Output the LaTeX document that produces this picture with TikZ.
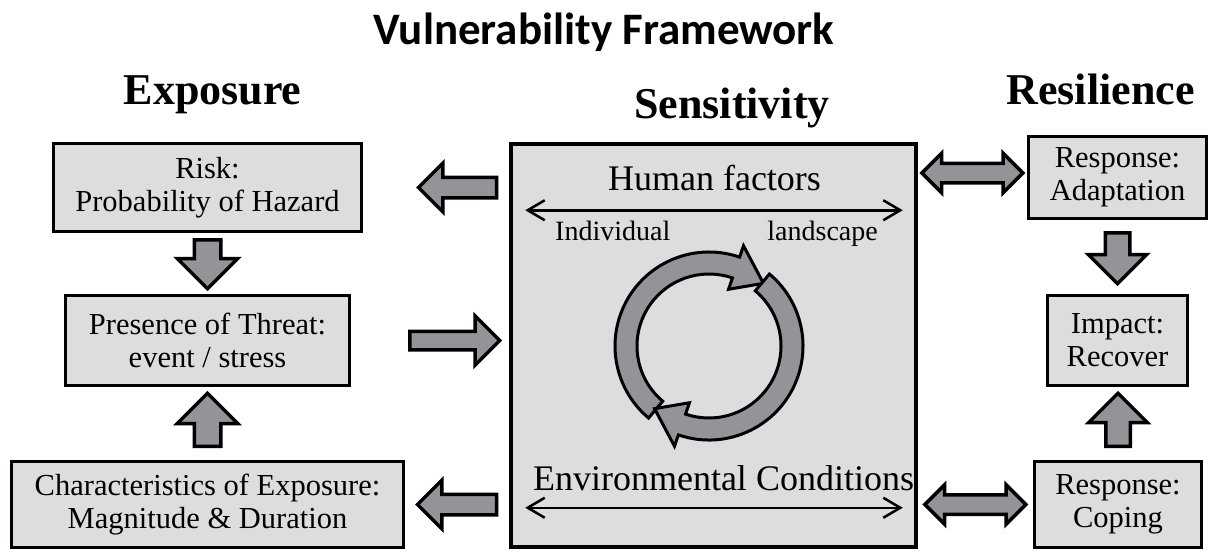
\documentclass[tikz,border=0pt]{standalone}
\usepackage{fontspec}
\setmainfont{Liberation Serif}
\newfontfamily\titlefont{Carlito}
\usetikzlibrary{shapes.arrows,arrows.meta,calc}
\definecolor{boxgray}{RGB}{220,221,222}
\definecolor{arrowgray}{RGB}{146,148,151}

\begin{document}
\begin{tikzpicture}[x=1pt,y=-1pt,
	box/.style={draw=black, line width=3pt, fill=boxgray, align=center, inner sep=0pt, font=\fontsize{30.5}{33}\selectfont},
	blockarrow/.style={single arrow, draw=black, line width=3.5pt, fill=arrowgray, single arrow tip angle=90},
	harrow/.style={blockarrow, inner sep=8.5pt, single arrow head extend=14pt},
	varrow/.style={blockarrow, inner sep=11.5pt, single arrow head extend=17pt, minimum height=49pt},
	twoway/.style={double arrow, draw=black, line width=3.5pt, fill=arrowgray, inner sep=8pt, double arrow tip angle=90, double arrow head extend=10pt, minimum height=101pt},
	thinarrow/.style={line width=2.5pt, {Straight Barb[length=17pt,width=20pt]}-{Straight Barb[length=17pt,width=20pt]}},
	heading/.style={font=\fontsize{44}{48}\selectfont\bfseries, anchor=base, inner sep=0pt},
	label/.style={anchor=base, inner sep=0pt}]
	\useasboundingbox (0,0) rectangle (1215,552);
	% Titles:
	\node[anchor=base, inner sep=0pt, font={\titlefont\bfseries\fontsize{45}{48}\selectfont}] (title) at (604,44) {Vulnerability Framework};
	\node[heading] (exposure) at (212.5,104) {Exposure};
	\node[heading] (sensitivity) at (732,118) {Sensitivity};
	\node[heading] (resilience) at (1100.5,104) {Resilience};
	% Boxes:
	\node[box, minimum width=308pt, minimum height=88pt] (risk) at (207.5,187.5) {Risk:\\Probability of Hazard};
	\node[box, minimum width=284pt, minimum height=90pt] (threat) at (207.5,340.5) {Presence of Threat:\\event / stress};
	\node[box, minimum width=392pt, minimum height=86pt] (charact) at (207.5,504.5) {Characteristics of Exposure:\\Magnitude \& Duration};
	\node[box, line width=3.5pt, minimum width=405pt, minimum height=403pt] (central) at (713.5,345.5) {};
	\node[box, minimum width=178pt, minimum height=82pt] (adapt) at (1117.5,177.5) {Response:\\Adaptation};
	\node[box, minimum width=140pt, minimum height=90pt] (impact) at (1117.5,340.5) {Impact:\\Recover};
	\node[box, minimum width=167pt, minimum height=86pt] (coping) at (1118,504.5) {Response:\\Coping};
	% Block arrows:
	\node[varrow, shape border rotate=270, anchor=tail] (riskarrow) at ($(risk.south)+(0,5)$) {};
	\node[varrow, shape border rotate=90, anchor=tail, minimum height=53pt] (charactarrow) at ($(charact.north)+(0,-12)$) {};
	\node[harrow, shape border rotate=180, anchor=tail, minimum height=78pt] (toprisk) at ($(central.west |- risk.east)+(-11,0)$) {};
	\node[harrow, anchor=tail, inner sep=7.5pt, single arrow head extend=15.5pt, minimum height=90pt] (tocentral) at ($(threat.east)+(57,0)$) {};
	\node[harrow, shape border rotate=180, anchor=tail, minimum height=79pt] (tocharact) at ($(central.west |- charact.east)+(-11,0)$) {};
	\node[varrow, shape border rotate=270, anchor=tail, minimum height=51pt, inner sep=10.5pt] (adaptarrow) at ($(adapt.south)+(0,11)$) {};
	\node[varrow, shape border rotate=90, anchor=tail, minimum height=53pt, inner sep=10.5pt] (copingarrow) at ($(coping.north)+(0,-12)$) {};
	\node[twoway] (adaptlink) at ($(central.east |- adapt.west)!0.5!(adapt.west)+(0,-4.5)$) {};
	\node[twoway] (copinglink) at ($(central.east |- coping.west)!0.5!(coping.west)$) {};
	% Inside the sensitivity box:
	\node[label, font=\fontsize{36}{40}\selectfont] (human) at (714.5,190) {Human factors};
	\coordinate (humanleft) at ($(central.north west)+(16,68)$);
	\coordinate (humanright) at ($(central.north east)+(-15,68)$);
	\draw[thinarrow] (humanleft) -- (humanright);
	\node[label, anchor=base west, font=\fontsize{28}{32}\selectfont] (individual) at (555,240) {Individual};
	\node[label, anchor=base east, font=\fontsize{28}{32}\selectfont] (landscape) at (878,240) {landscape};
	\node[label, font=\fontsize{36}{40}\selectfont] (environ) at (723.5,490) {Environmental Conditions};
	\coordinate (envleft) at ($(central.south west)+(16,-41)$);
	\coordinate (envright) at ($(central.south east)+(-15,-41)$);
	\draw[thinarrow] (envleft) -- (envright);
	% Cycle:
	\begin{scope}[shift={($(central.center)+(-4.5,0.5)$)}, line width=3pt]
		\draw[fill=arrowgray] (130:72) arc[start angle=130, end angle=289, radius=72] -- (289:60) -- (311:83) -- (289:106) -- (289:94) arc[start angle=289, end angle=130, radius=94] -- cycle;
		\draw[fill=arrowgray] (310:72) arc[start angle=310, end angle=469, radius=72] -- (469:60) -- (491:83) -- (469:106) -- (469:94) arc[start angle=469, end angle=310, radius=94] -- cycle;
	\end{scope}
\end{tikzpicture}
\end{document}
